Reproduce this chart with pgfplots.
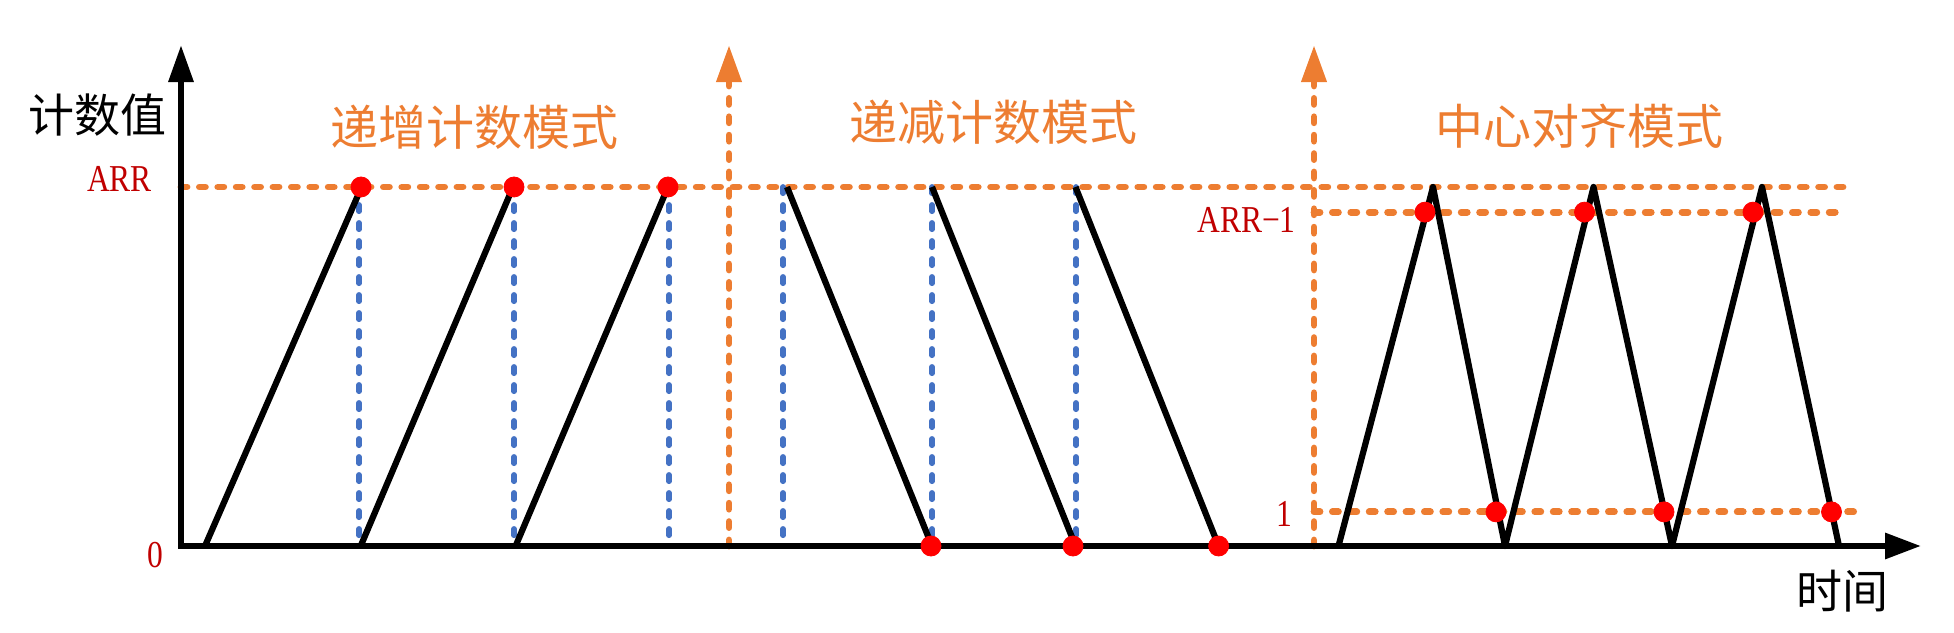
\documentclass[border=0pt]{standalone}
\usepackage{pgfplots}
\pgfplotsset{compat=1.18}
\usetikzlibrary{arrows.meta}
\usepackage{fontspec}
\setmainfont{Liberation Serif}
\newfontfamily\cjk{Noto Sans CJK SC}
\newfontfamily\lvlfont[FakeStretch=0.83]{Liberation Serif}
\definecolor{myorange}{HTML}{ED7D31}
\definecolor{myblue}{HTML}{4472C4}
\definecolor{mydarkred}{HTML}{C00000}
\definecolor{myred}{HTML}{FF0000}
\tikzset{
  orangedash/.style={myorange, line width=3.4pt, line cap=round, dash pattern=on 3pt off 6.2pt},
  bluedash/.style={myblue, line width=2.85pt, line cap=round, dash pattern=on 3.15pt off 5.85pt},
  blackline/.style={black, line width=3.1pt, line join=round},
  reddot/.style={only marks, mark=*, mark size=5pt, mark options={draw=myred, fill=myred}},
  cjktitle/.style={inner sep=0pt, text=myorange, font=\cjk\fontsize{24pt}{28pt}\selectfont},
  cjkblack/.style={inner sep=0pt, text=black, font=\cjk\fontsize{23pt}{27pt}\selectfont},
  lvl/.style={inner sep=0pt, text=mydarkred, font=\lvlfont\fontsize{19pt}{22pt}\selectfont},
}
\begin{document}
\begin{tikzpicture}
\begin{axis}[
  name=ax, at={(0,0)}, anchor=south west,
  width=977pt, height=316pt, scale only axis,
  xmin=0, xmax=1954, ymin=-2.3955, ymax=15.209,
  hide axis, clip=false,
]
% orange dashed reference lines
\addplot[orangedash] coordinates {(181,10) (1850,10)};
\addplot[orangedash] coordinates {(1314,9.3) (1840,9.3)};
\addplot[orangedash] coordinates {(1314,0.95) (1858,0.95)};
% orange mode separators
\addplot[orangedash, -{Triangle[length=18.5pt, width=12pt]}] coordinates {(729,0) (729,13.955)};
\addplot[orangedash, -{Triangle[length=18.5pt, width=12pt]}] coordinates {(1314,0) (1314,13.955)};
% blue dotted update events
\addplot[bluedash] coordinates {(359,0.3) (359,9.6)};
\addplot[bluedash] coordinates {(514,0.3) (514,9.6)};
\addplot[bluedash] coordinates {(669,0.3) (669,9.6)};
\addplot[bluedash] coordinates {(783,0.3) (783,10)};
\addplot[bluedash] coordinates {(932,0.3) (932,10)};
\addplot[bluedash] coordinates {(1076,0.3) (1076,10)};
% axes
\addplot[black, line width=3.1pt, {Triangle[length=18.5pt, width=12pt]}-{Triangle[length=18pt, width=12.5pt]}]
  coordinates {(181,13.955) (181,0) (1921,0)};
% up counting
\addplot[blackline] coordinates {(205,0) (361.6,10)};
\addplot[blackline] coordinates {(360.7,0) (513,10)};
\addplot[blackline] coordinates {(515.6,0) (668,10)};
% down counting
\addplot[blackline] coordinates {(787,10) (932,0)};
\addplot[blackline] coordinates {(932,10) (1075.5,0)};
\addplot[blackline] coordinates {(1075.5,10) (1218.6,0)};
% center aligned
\addplot[blackline] coordinates {(1338.5,0) (1433,10) (1505,0) (1593.5,10) (1672,0) (1762,10) (1839,0)};
% red events
\addplot[reddot] coordinates {(361,10) (514,10) (668,10)};
\addplot[reddot] coordinates {(931,0) (1073,0) (1218.6,0)};
\addplot[reddot] coordinates {(1425,9.3) (1584.5,9.3) (1753,9.3)};
\addplot[reddot] coordinates {(1496,0.95) (1664,0.95) (1831.5,0.95)};
% texts
\node[cjkblack] at (axis cs:97,12.0) {计数值};
\node[cjkblack] at (axis cs:1842,-1.253) {时间};
\node[cjktitle] at (axis cs:474,11.67) {递增计数模式};
\node[cjktitle] at (axis cs:993.5,11.81) {递减计数模式};
\node[cjktitle] at (axis cs:1579,11.70) {中心对齐模式};
\node[lvl] at (axis cs:119.5,10.21) {ARR};
\node[lvl] at (axis cs:155,-0.25) {0};
\node[lvl] at (axis cs:1246.5,9.08) {ARR−1};
\node[lvl] at (axis cs:1284.5,0.89) {1};
\end{axis}
\pgfresetboundingbox
\path (ax.south west) rectangle (ax.north east);
\end{tikzpicture}
\end{document}
